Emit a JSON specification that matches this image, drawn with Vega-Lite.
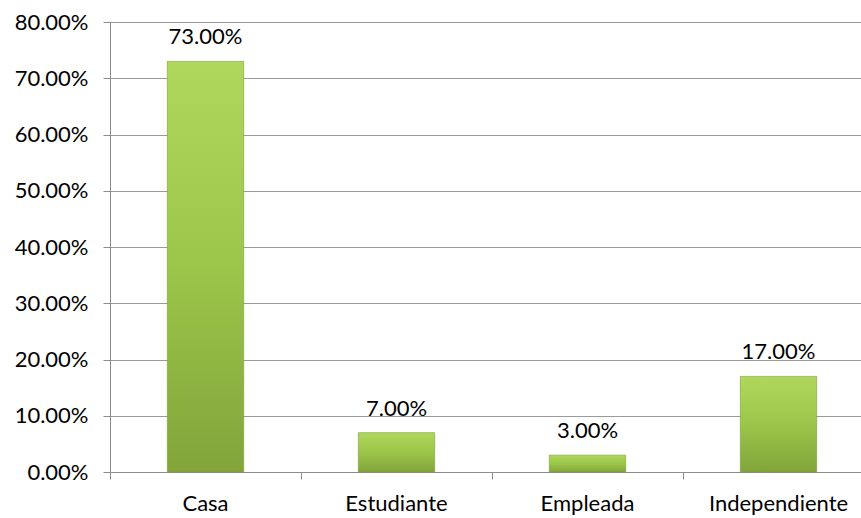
{
  "$schema": "https://vega.github.io/schema/vega-lite/v6.json",
  "autosize": "none",
  "width": 751,
  "height": 450,
  "padding": {"left": 110, "top": 22, "right": 0, "bottom": 46},
  "background": "white",
  "config": {
    "view": {"stroke": null},
    "font": "Lato",
    "axis": {"labelFont": "Lato", "labelFontSize": 22, "labelColor": "#000000", "domainColor": "#8c8c8c", "tickColor": "#8c8c8c", "gridColor": "#9a9a9a"}
  },
  "data": {
    "values": [
      {"ocupacion": "Casa", "porcentaje": 0.73},
      {"ocupacion": "Estudiante", "porcentaje": 0.07},
      {"ocupacion": "Empleada", "porcentaje": 0.03},
      {"ocupacion": "Independiente", "porcentaje": 0.17}
    ]
  },
  "resolve": {"axis": {"x": "independent"}},
  "layer": [
    {
      "mark": {
        "type": "bar",
        "width": {"band": 0.4},
        "stroke": "#7c9c38",
        "strokeWidth": 0.6,
        "color": {
          "gradient": "linear", "x1": 0, "y1": 0, "x2": 0, "y2": 1,
          "stops": [
            {"offset": 0, "color": "#afd75b"},
            {"offset": 0.5, "color": "#9cc64a"},
            {"offset": 1, "color": "#82a43a"}
          ]
        }
      },
      "encoding": {
        "x": {
          "field": "ocupacion", "type": "nominal", "sort": null,
          "scale": {"range": [0, 764], "paddingInner": 0, "paddingOuter": 0},
          "axis": {"title": null, "labelAngle": 0, "ticks": false, "domain": true, "labelPadding": 21, "orient": "bottom"}
        },
        "y": {
          "field": "porcentaje", "type": "quantitative",
          "scale": {"domain": [0, 0.8], "nice": false},
          "axis": {"title": null, "format": ".2%", "values": [0, 0.1, 0.2, 0.3, 0.4, 0.5, 0.6, 0.7, 0.8], "tickSize": 7, "labelPadding": 15, "grid": true, "domain": true}
        }
      }
    },
    {
      "mark": {"type": "text", "baseline": "alphabetic", "dy": -17, "fontSize": 22, "font": "Lato", "color": "#000000"},
      "encoding": {
        "x": {
          "field": "ocupacion", "type": "nominal", "sort": null,
          "axis": {"title": null, "labels": false, "domain": false, "ticks": true, "tickSize": 7, "bandPosition": 0, "orient": "bottom", "grid": false}
        },
        "y": {"field": "porcentaje", "type": "quantitative"},
        "text": {"field": "porcentaje", "type": "quantitative", "format": ".2%"}
      }
    }
  ]
}
